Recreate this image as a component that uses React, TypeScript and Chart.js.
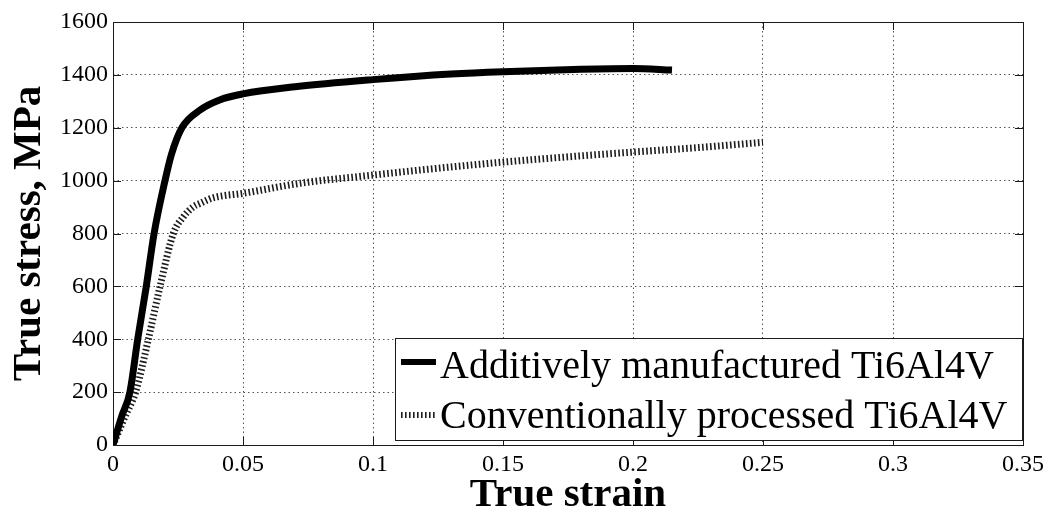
import React, { useEffect, useRef } from 'react';
import { Chart, registerables } from 'chart.js';

Chart.register(...registerables);

const seriesLabels = ['Additively manufactured Ti6Al4V', 'Conventionally processed Ti6Al4V'];

const strainAM = [0, 0.0033, 0.0065, 0.0095, 0.0128, 0.0158, 0.02, 0.0225, 0.0265, 0.0335, 0.041, 0.05, 0.07, 0.1, 0.13, 0.15, 0.18, 0.2, 0.215];
const stressAM = [0, 107, 200, 400, 600, 800, 1000, 1100, 1200, 1267, 1305, 1328, 1355, 1382, 1403, 1412, 1421, 1424, 1418];

const strainCP = [0, 0.0046, 0.0087, 0.0136, 0.0181, 0.0232, 0.027, 0.0309, 0.0335, 0.0385, 0.05, 0.072, 0.1, 0.125, 0.15, 0.175, 0.2, 0.225, 0.25];
const stressCP = [0, 107, 200, 400, 600, 800, 862, 901, 914, 935, 952, 990, 1021, 1047, 1070, 1090, 1108, 1125, 1145];

const xAxisRange = [0, 0.35];
const xTickStep = 0.05;
const yAxisRange = [0, 1600];
const yTickStep = 200;

const FONT = '"Liberation Serif", "Times New Roman", serif';

const framePlugin = {
  id: 'matlabFrame',
  beforeDatasetsDraw(chart: any) {
    const { ctx, chartArea } = chart;
    const { left, right, top, bottom } = chartArea;
    const xs = chart.scales.x;
    const ys = chart.scales.y;
    const tl = 8;
    ctx.save();
    ctx.strokeStyle = '#1a1a1a';
    ctx.lineWidth = 1;
    ctx.beginPath();
    xs.ticks.forEach((t: any) => {
      const px = Math.round(xs.getPixelForValue(t.value)) + 0.5;
      ctx.moveTo(px, bottom);
      ctx.lineTo(px, bottom - tl);
      ctx.moveTo(px, top);
      ctx.lineTo(px, top + tl);
    });
    ys.ticks.forEach((t: any) => {
      const py = Math.round(ys.getPixelForValue(t.value)) + 0.5;
      ctx.moveTo(left, py);
      ctx.lineTo(left + tl, py);
      ctx.moveTo(right, py);
      ctx.lineTo(right - tl, py);
    });
    ctx.stroke();
    ctx.strokeRect(Math.round(left) + 0.5, Math.round(top) + 0.5, Math.round(right - left), Math.round(bottom - top));
    ctx.restore();
  },
};

const legendPlugin = {
  id: 'boxLegend',
  afterDraw(chart: any) {
    const { ctx, chartArea } = chart;
    const w = 627;
    const h = 102;
    const x0 = Math.round(chartArea.right) - w - 1;
    const y0 = Math.round(chartArea.bottom) - h - 5;
    ctx.save();
    ctx.fillStyle = '#ffffff';
    ctx.fillRect(x0, y0, w, h);
    ctx.strokeStyle = '#1a1a1a';
    ctx.lineWidth = 1;
    ctx.strokeRect(x0 + 0.5, y0 + 0.5, w, h);
    ctx.font = `40px ${FONT}`;
    ctx.textBaseline = 'alphabetic';
    ctx.textAlign = 'left';
    chart.data.datasets.forEach((ds: any, i: number) => {
      const base = y0 + 40 + i * 50;
      const ly = y0 + 24 + i * 53;
      ctx.save();
      ctx.strokeStyle = ds.borderColor;
      ctx.lineWidth = 6;
      ctx.lineCap = 'butt';
      ctx.setLineDash(ds.borderDash || []);
      ctx.beginPath();
      ctx.moveTo(x0 + 6, ly);
      ctx.lineTo(x0 + 41, ly);
      ctx.stroke();
      ctx.restore();
      ctx.fillStyle = '#000000';
      ctx.fillText(ds.label, x0 + 45, base);
    });
    ctx.restore();
  },
};

export default function App() {
  const canvasRef = useRef<HTMLCanvasElement | null>(null);

  useEffect(() => {
    if (!canvasRef.current) return;
    const chart = new Chart(canvasRef.current, {
      type: 'line',
      data: {
        datasets: [
          {
            label: seriesLabels[0],
            data: strainAM.map((x, i) => ({ x, y: stressAM[i] })),
            borderColor: '#000000',
            borderWidth: 7,
            pointRadius: 0,
            cubicInterpolationMode: 'monotone',
            borderCapStyle: 'butt',
            fill: false,
          },
          {
            label: seriesLabels[1],
            data: strainCP.map((x, i) => ({ x, y: stressCP[i] })),
            borderColor: '#1c1c1c',
            borderWidth: 7,
            borderDash: [1.6, 2.4],
            pointRadius: 0,
            cubicInterpolationMode: 'monotone',
            borderCapStyle: 'butt',
            fill: false,
          },
        ],
      },
      options: {
        responsive: false,
        animation: false,
        devicePixelRatio: 1,
        layout: { padding: { left: 0, top: 22, right: 33, bottom: 0 } },
        plugins: {
          legend: { display: false },
          tooltip: { enabled: false },
        },
        scales: {
          x: {
            type: 'linear',
            min: xAxisRange[0],
            max: xAxisRange[1],
            afterFit: (s: any) => {
              s.height = 69;
            },
            ticks: {
              stepSize: xTickStep,
              padding: 5,
              color: '#000000',
              font: { family: FONT, size: 24 },
              maxRotation: 0,
              autoSkip: false,
              callback: (v: any) => String(Number(Number(v).toFixed(2))),
            },
            grid: { color: '#555555', lineWidth: 1, drawTicks: false },
            border: { display: false, dash: [1.5, 3] },
            title: {
              display: true,
              text: 'True strain',
              color: '#000000',
              font: { family: FONT, size: 41, weight: 'bold', lineHeight: 0.9 },
              padding: { top: 0, bottom: 0 },
            },
          },
          y: {
            type: 'linear',
            min: yAxisRange[0],
            max: yAxisRange[1],
            afterFit: (s: any) => {
              s.width = 113;
            },
            ticks: {
              stepSize: yTickStep,
              padding: 5,
              color: '#000000',
              font: { family: FONT, size: 24 },
              autoSkip: false,
              callback: (v: any) => String(Math.round(Number(v))),
            },
            grid: { color: '#555555', lineWidth: 1, drawTicks: false },
            border: { display: false, dash: [1.5, 3] },
            title: {
              display: true,
              text: 'True stress, MPa',
              color: '#000000',
              font: { family: FONT, size: 41, weight: 'bold', lineHeight: 0.9 },
              padding: { top: 11, bottom: 0 },
            },
          },
        },
      },
      plugins: [framePlugin, legendPlugin],
    } as any);
    return () => chart.destroy();
  }, []);

  return (
    <div style={{ position: 'absolute', left: 0, top: 0, width: 1056, height: 514, background: '#ffffff' }}>
      <canvas ref={canvasRef} width={1056} height={514} style={{ width: 1056, height: 514, display: 'block' }} />
    </div>
  );
}
